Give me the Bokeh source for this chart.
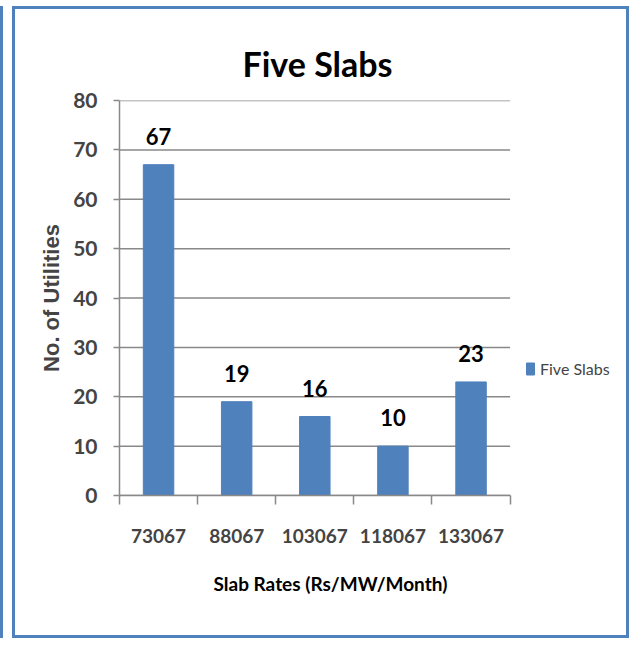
from bokeh.plotting import figure
from bokeh.models import (ColumnDataSource, Range1d, LinearAxis, FixedTicker, LabelSet,
                          Legend, LegendItem, Title)
from bokeh.core.properties import value
from bokeh.embed import file_html
from bokeh.resources import INLINE

categories = ["73067", "88067", "103067", "118067", "133067"]
utilities = [67, 19, 16, 10, 23]
y_ticks = [0, 10, 20, 30, 40, 50, 60, 70, 80]
series_name = "Five Slabs"
x_title = "Slab Rates (Rs/MW/Month)"
y_title = "No. of Utilities"

BLUE = "#4F81BD"
GRAY = "#898989"
FONT = "Lato"

n = len(categories)
centers = [i + 0.5 for i in range(n)]
src = ColumnDataSource(dict(x=centers, val=utilities, txt=[str(v) for v in utilities]))
grid_src = ColumnDataSource(dict(y=y_ticks, x0=[0] * len(y_ticks), x1=[n] * len(y_ticks)))

# the frame is widened to the right so the legend can sit inside it; the
# plotted categories occupy 0..n of the x range
X_END = 6.49

p = figure(width=617, height=632, output_backend="svg", toolbar_location=None,
           x_range=Range1d(0, X_END), y_range=Range1d(0, 80),
           x_axis_location=None, y_axis_location=None,
           min_border_left=104, min_border_right=6, min_border_top=91, min_border_bottom=146,
           styles={"border": "3px solid " + BLUE, "margin-left": "12px",
                   "margin-top": "6px",
                   "box-shadow": "-9px 0 0 0 white, -12px 0 0 0 " + BLUE})
p.outline_line_color = None
p.background_fill_color = "white"
p.border_fill_color = "white"
p.xgrid.visible = False
p.ygrid.visible = False

p.title.text = "Five Slabs"
p.title.align = "left"
p.title.offset = 123
p.title.text_font = FONT
p.title.text_font_size = "34px"
p.title.text_font_style = "bold"
p.title.text_color = "black"
p.title.standoff = 34

# horizontal gridlines across the category area
p.segment(x0="x0", x1="x1", y0="y", y1="y", source=grid_src, line_color=GRAY, line_width=1.5)

r = p.vbar(x="x", top="val", width=0.39, source=src, fill_color=BLUE, line_color=BLUE)

# y axis
yax = LinearAxis(ticker=FixedTicker(ticks=y_ticks))
yax.axis_label = y_title
yax.axis_label_text_font = "Liberation Sans"
yax.axis_label_text_font_style = "bold"
yax.axis_label_text_font_size = "22px"
yax.axis_label_standoff = 6
yax.major_label_text_font = FONT
yax.major_label_text_font_style = "bold"
yax.major_label_text_font_size = "21px"
yax.major_label_standoff = 16
yax.major_tick_out = 6
yax.major_tick_in = 0
yax.minor_tick_line_color = None
yax.axis_line_color = GRAY
yax.major_tick_line_color = GRAY
yax.axis_line_width = 1.5
yax.major_tick_line_width = 1.5
p.add_layout(yax, "left")

# x axis: tick marks at category boundaries
tax = LinearAxis(ticker=FixedTicker(ticks=list(range(n + 1))), bounds=(0, n))
tax.major_label_text_font_size = "0px"
tax.major_label_standoff = 0
tax.major_tick_out = 9
tax.major_tick_in = 0
tax.minor_tick_line_color = None
tax.axis_line_color = GRAY
tax.major_tick_line_color = GRAY
tax.axis_line_width = 1.5
tax.major_tick_line_width = 1.5
p.add_layout(tax, "below")

# x axis: category labels at bar centres
cax = LinearAxis(ticker=FixedTicker(ticks=centers), bounds=(0, n),
                 major_label_overrides={c: lab for c, lab in zip(centers, categories)})
cax.axis_line_color = None
cax.major_tick_line_color = None
cax.minor_tick_line_color = None
cax.major_tick_out = 0
cax.major_label_text_font = FONT
cax.major_label_text_font_style = "bold"
cax.major_label_text_font_size = "19px"
cax.major_label_standoff = 24
p.add_layout(cax, "below")

# x axis title, centred under the category area
xt = Title(text=x_title, align="left", offset=94, standoff=49,
           text_font=FONT, text_font_style="bold", text_font_size="19px", text_color="black")
p.add_layout(xt, "below")

labels = LabelSet(x="x", y="val", text="txt", source=src, y_offset=20,
                  text_align="center", text_baseline="alphabetic",
                  text_font=value(FONT), text_font_style="bold",
                  text_font_size="22px", text_color="black")
p.add_layout(labels)

legend = Legend(items=[LegendItem(label=series_name, renderers=[r])],
                location=(406, 117), margin=0, padding=5,
                border_line_color=None, background_fill_alpha=0,
                glyph_width=10, glyph_height=15, label_standoff=5,
                label_text_font=FONT, label_text_font_size="16px")
p.add_layout(legend)

open("out.html", "w").write(file_html(p, INLINE))
